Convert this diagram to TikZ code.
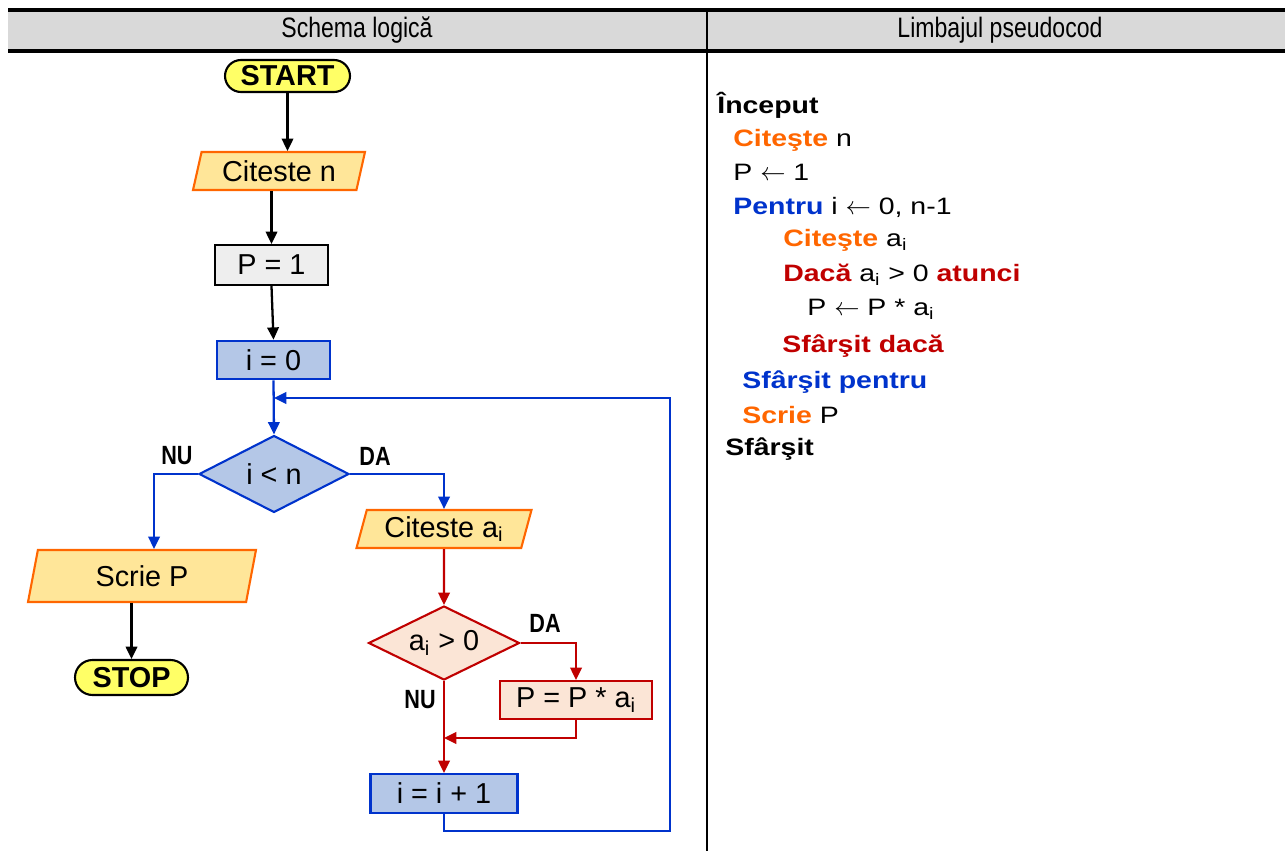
\documentclass[tikz,border=0pt]{standalone}
\usepackage{fontspec}
\setmainfont{Liberation Sans}
\newfontfamily\narrowfont[FakeStretch=0.82]{Liberation Sans}
\newfontfamily\codefont[FakeStretch=1.2]{Liberation Sans}
\usetikzlibrary{shapes.geometric,arrows.meta}

\definecolor{termfill}{RGB}{255,255,102}
\definecolor{iofill}{RGB}{255,230,153}
\definecolor{ioline}{RGB}{255,102,0}
\definecolor{procfill}{RGB}{238,238,238}
\definecolor{loopfill}{RGB}{180,199,231}
\definecolor{loopline}{RGB}{0,51,204}
\definecolor{condfill}{RGB}{251,229,214}
\definecolor{condline}{RGB}{192,0,0}
\definecolor{headfill}{RGB}{217,217,217}

\begin{document}
\begin{tikzpicture}[x=0.02cm,y=-0.02cm,
    every node/.style={inner sep=0pt,font=\fontsize{16.4}{19}\selectfont},
    terminal/.style={draw,fill=termfill,line width=1.2pt,rounded corners=0.32cm,
        minimum height=0.64cm,font=\fontsize{16.4}{19}\selectfont\bfseries},
    io/.style={trapezium,trapezium left angle=68,trapezium right angle=112,
        trapezium stretches body,draw=ioline,fill=iofill,line width=1.2pt,minimum height=0.76cm},
    proc/.style={draw,fill=procfill,line width=1.2pt,minimum height=0.8cm},
    loopbox/.style={draw=loopline,fill=loopfill,line width=1.2pt,minimum height=0.77cm},
    cond/.style={diamond,aspect=2,draw=loopline,fill=loopfill,line width=1.2pt},
    ifbox/.style={draw=condline,fill=condfill,line width=1.2pt},
    arr/.style={-{Triangle[length=7pt,width=6.5pt]},line width=1.3pt},
    lbl/.style={font=\narrowfont\bfseries\fontsize{15}{17}\selectfont},
    code/.style={anchor=base west,font=\codefont\fontsize{13.5}{16}\selectfont}]
    \useasboundingbox (0,0) rectangle (1285,851);

    % Antet
    \fill[headfill] (8,10) rectangle (1285,51);
    \draw[line width=2pt] (8,10) -- (1285,10);
    \draw[line width=2pt] (8,51) -- (1285,51);
    \draw[line width=1.2pt] (707,10) -- (707,851);
    \node[font=\narrowfont\fontsize{16}{18}\selectfont] (hschema) at (357,30) {Schema logică};
    \node[font=\narrowfont\fontsize{16}{18}\selectfont] (hpseudo) at (1000,30) {Limbajul pseudocod};

    % Schema logica
    \node[terminal,minimum width=2.5cm] (start) at (287.5,76) {START};
    \node[io,minimum width=3.44cm] (citn) at (279,171) {Citeste n};
    \node[proc,minimum width=2.26cm] (p1) at (271.5,265) {P = 1};
    \node[loopbox,minimum width=2.26cm] (i0) at (273.5,360) {i = 0};
    \node[cond,minimum width=3cm,minimum height=1.54cm] (cmp) at (274,474) {i < n};
    \node[io,minimum width=4.56cm,minimum height=1.04cm,trapezium left angle=65,
        trapezium right angle=115] (scrie) at (142,576) {Scrie P};
    \node[terminal,minimum width=2.26cm,minimum height=0.7cm,rounded corners=0.35cm] (stop) at (131.5,677.5) {STOP};
    \node[io,minimum width=3.5cm] (citai) at (444,529) {Citeste a\textsubscript{i}};
    \node[cond,draw=condline,fill=condfill,minimum width=3.02cm,minimum height=1.48cm] (pos) at (444,643) {a\textsubscript{i} > 0};
    \node[ifbox,minimum width=3.04cm,minimum height=0.76cm] (mul) at (576,700) {P = P * a\textsubscript{i}};
    \node[loopbox,minimum width=2.94cm,minimum height=0.78cm] (inc) at (444,793.5) {i = i + 1};

    % Etichete
    \node[lbl] (nu1) at (177,456) {NU};
    \node[lbl] (da1) at (375,456) {DA};
    \node[lbl] (da2) at (545,623) {DA};
    \node[lbl] (nu2) at (420,700) {NU};

    % Sageti
    \coordinate (join) at (444,738);
    \coordinate (loopbot) at (670,831);
    \coordinate (loopin) at (274,398);
    \draw[arr] (start.south) -- (start.south |- citn.north);
    \draw[arr] (p1.north |- citn.south) -- (p1.north);
    \draw[arr] (p1.south) -- (i0.north);
    \draw[arr,loopline] (i0.south) -- (cmp.north);
    \draw[arr,loopline] (cmp.west) -| ([xshift=0.24cm]scrie.north);
    \draw[arr] (stop.north |- scrie.south) -- (stop.north);
    \draw[arr,loopline] (cmp.east) -| (citai.north);
    \draw[arr,condline] (citai.south) -- (pos.north);
    \draw[arr,condline] (pos.east) -| (mul.north);
    \draw[arr,condline] (pos.south) -- (inc.north);
    \draw[arr,condline] (mul.south) |- (join);
    \draw[arr,loopline] (inc.south) |- (loopbot) |- (loopin);

    % Pseudocod
    \node[code] (l1) at (717,114) {\bfseries Început};
    \node[code] (l2) at (733,147) {\textcolor{ioline}{\bfseries Citeşte} n};
    \node[code] (l3) at (733,181) {P $\leftarrow$ 1};
    \node[code] (l4) at (733,215) {\textcolor{loopline}{\bfseries Pentru} i $\leftarrow$ 0, n-1};
    \node[code] (l5) at (783,247) {\textcolor{ioline}{\bfseries Citeşte} a\textsubscript{i}};
    \node[code] (l6) at (783,282) {\textcolor{condline}{\bfseries Dacă} a\textsubscript{i} > 0 \textcolor{condline}{\bfseries atunci}};
    \node[code] (l7) at (807,316) {P $\leftarrow$ P * a\textsubscript{i}};
    \node[code] (l8) at (782,353) {\textcolor{condline}{\bfseries Sfârşit dacă}};
    \node[code] (l9) at (742,388) {\textcolor{loopline}{\bfseries Sfârşit pentru}};
    \node[code] (l10) at (742,423) {\textcolor{ioline}{\bfseries Scrie} P};
    \node[code] (l11) at (725,455) {\bfseries Sfârşit};
\end{tikzpicture}
\end{document}
